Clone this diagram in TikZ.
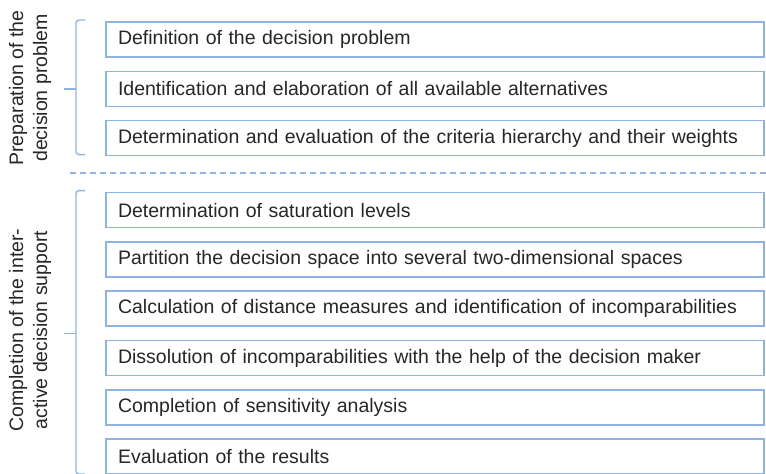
\documentclass[tikz,border=0pt]{standalone}
\usepackage{fontspec}
\setmainfont{Liberation Sans}
\usetikzlibrary{positioning,calc}
\definecolor{boxblue}{RGB}{141,179,226}
\definecolor{txtgray}{RGB}{38,38,38}

\begin{document}
\begin{tikzpicture}[
    x=1pt, y=-1pt,
    node distance=14.3pt,
    stepbox/.style={draw=boxblue, line width=1.6pt, minimum width=658pt,
                minimum height=35pt, text width=634pt, inner xsep=12pt, outer sep=0pt,
                align=left, text=txtgray, font=\fontsize{19.5}{23.5}\selectfont},
    phase/.style={rotate=90, align=center, text=txtgray,
                font=\fontsize{19.5}{24}\selectfont},
    brk/.style={draw=boxblue, line width=1.4pt, rounded corners=3pt},
    sep/.style={draw=boxblue, line width=1.6pt, dash pattern=on 6pt off 4pt}
]
\useasboundingbox (0,0) rectangle (766,474);

% preparation phase
\node[stepbox, anchor=north west] (defn) at (106,22) {Definition of the decision problem};
\node[stepbox, below=of defn] (alts) {Identification and elaboration of all available alternatives};
\node[stepbox, below=of alts] (crit) {Determination and evaluation of the criteria hierarchy and their weights};

% interactive decision support
\node[stepbox, below=37pt of crit] (satur) {Determination of saturation levels};
\node[stepbox, below=of satur] (part) {Partition the decision space into several two-dimensional spaces};
\node[stepbox, below=of part] (dist) {Calculation of distance measures and identification of incomparabilities};
\node[stepbox, below=of dist] (dissol) {Dissolution of incomparabilities with the help of the decision maker};
\node[stepbox, below=of dissol] (sens) {Completion of sensitivity analysis};
\node[stepbox, below=of sens] (eval) {Evaluation of the results};

\node[phase] (prep) at (30,88) {Preparation of the\\decision problem};
\node[phase] (compl) at (30,330) {Completion of the inter-\\active decision support};

% brackets
\draw[brk] ($(defn.north west)+(-21,-2)$) -- ($(defn.north west)+(-30,-2)$)
    -- ($(crit.south west)+(-30,-1)$) -- ($(crit.south west)+(-21,-1)$);
\draw[brk] ($(alts.west)+(-30,0)$) -- ++(-12,0);
\draw[brk] ($(satur.north west)+(-21,-2)$) -- ($(satur.north west)+(-30,-2)$)
    -- ($(eval.south west)+(-30,0)$) -- ($(eval.south west)+(-21,0)$);
\draw[brk] ($(dist.south west)!.5!(dissol.north west)+(-30,0)$) -- ++(-12,0);

% separator
\coordinate (sepl) at ($(crit.south)!.47!(satur.north)$);
\draw[sep] (sepl -| 70,0) -- (sepl -| 766,0);

\end{tikzpicture}
\end{document}
